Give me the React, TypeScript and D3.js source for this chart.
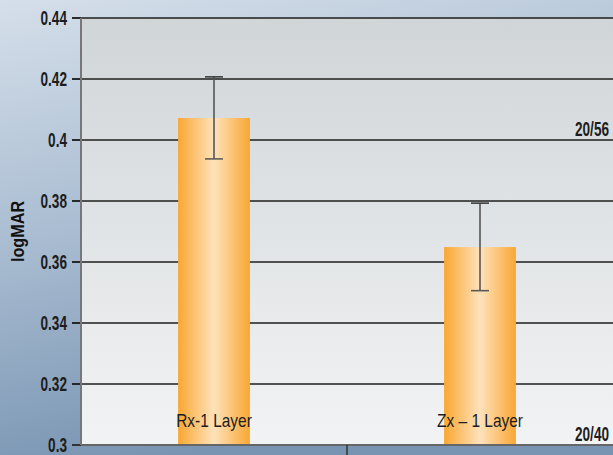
import React from "react";
import * as d3 from "d3";

const categories = ["Rx-1 Layer", "Zx \u2013 1 Layer"];
const values = [0.4072, 0.3649];
const errLow = [0.3938, 0.3506];
const errHigh = [0.4207, 0.3793];
const yTicks = [0.3, 0.32, 0.34, 0.36, 0.38, 0.4, 0.42, 0.44];
const tickLabels = ["0.3", "0.32", "0.34", "0.36", "0.38", "0.4", "0.42", "0.44"];
const refLines = [
  { label: "20/56", value: 0.4 },
  { label: "20/40", value: 0.3 },
];

const W = 613, H = 455;
const left = 81, right = 613, top = 18, bottom = 445;
const font = "'Liberation Sans', Arial, sans-serif";

function CText({ x, y, sx, anchor, size, weight, children }: any) {
  return (
    <g transform={`translate(${x},${y}) scale(${sx},1)`}>
      <text x={0} y={0} textAnchor={anchor} fontFamily={font} fontSize={size} fontWeight={weight || "normal"} fill="#1d1d1d">
        {children}
      </text>
    </g>
  );
}

export default function App() {
  const x = d3.scaleBand<string>().domain(categories).range([left, right]).paddingInner(0.73).paddingOuter(0.365);
  const y = d3.scaleLinear().domain([0.3, 0.44]).range([bottom, top]);
  const band = x.bandwidth();
  return (
    <svg width={W} height={H} style={{ position: "absolute", left: 0, top: 0, display: "block" }}>
      <defs>
        <linearGradient id="outer" x1="0" y1="0" x2="0.3" y2="1">
          <stop offset="0" stopColor="#d5dfea" />
          <stop offset="0.5" stopColor="#a9bcd1" />
          <stop offset="1" stopColor="#7894b2" />
        </linearGradient>
        <linearGradient id="plot" x1="0" y1="0" x2="0" y2="1">
          <stop offset="0" stopColor="#d0d5d8" />
          <stop offset="1" stopColor="#f2f3f4" />
        </linearGradient>
        <linearGradient id="bar" x1="0" y1="0" x2="1" y2="0">
          <stop offset="0" stopColor="#f9a733" />
          <stop offset="0.5" stopColor="#fee2bb" />
          <stop offset="1" stopColor="#f9a733" />
        </linearGradient>
      </defs>
      <rect x={0} y={0} width={W} height={H} fill="url(#outer)" />
      <rect x={left} y={top} width={right - left} height={bottom - top} fill="url(#plot)" />
      {yTicks.map((t, i) => (
        <g key={t}>
          <line x1={72} x2={right} y1={y(t)} y2={y(t)} stroke={t === 0.3 ? "#666" : "#1e1e1e"} strokeWidth={t === 0.3 ? 2 : 1.4} />
          <line x1={72} x2={left} y1={y(t)} y2={y(t)} stroke="#1e1e1e" strokeWidth={1.4} />
          <CText x={67} y={y(t) + 7} sx={0.68} anchor="end" size={20} weight="bold">
            {tickLabels[i]}
          </CText>
        </g>
      ))}
      <line x1={left} x2={left} y1={top} y2={bottom} stroke="#777" strokeWidth={2} />
      <line x1={x.step() + left} x2={x.step() + left} y1={bottom} y2={H} stroke="#333" strokeWidth={1.5} />
      {categories.map((c, i) => (
        <g key={c}>
          <rect x={x(c)!} y={y(values[i])} width={band} height={bottom - y(values[i]) - 1} fill="url(#bar)" />
          <line x1={x(c)! + band / 2} x2={x(c)! + band / 2} y1={y(errHigh[i])} y2={y(errLow[i])} stroke="#555" strokeWidth={1.6} />
          <line x1={x(c)! + band / 2 - 9} x2={x(c)! + band / 2 + 9} y1={y(errHigh[i])} y2={y(errHigh[i])} stroke="#333" strokeWidth={1.5} />
          <line x1={x(c)! + band / 2 - 9} x2={x(c)! + band / 2 + 9} y1={y(errLow[i])} y2={y(errLow[i])} stroke="#555" strokeWidth={1.5} />
          <CText x={x(c)! + band / 2} y={427} sx={0.86} anchor="middle" size={18}>
            {c}
          </CText>
        </g>
      ))}
      {refLines.map((r) => (
        <CText key={r.label} x={609} y={y(r.value) - 4} sx={0.68} anchor="end" size={20} weight="bold">
          {r.label}
        </CText>
      ))}
      <g transform={`translate(24, ${(top + bottom) / 2}) rotate(-90) scale(0.9,1)`}>
        <text x={0} y={0} textAnchor="middle" fontFamily={font} fontWeight="bold" fontSize={18} fill="#111">
          logMAR
        </text>
      </g>
    </svg>
  );
}
